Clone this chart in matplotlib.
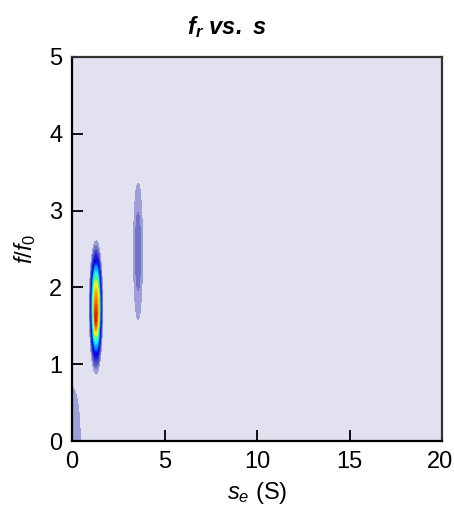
import numpy as np
import matplotlib
matplotlib.use("Agg")
import matplotlib.pyplot as plt
from matplotlib.colors import LinearSegmentedColormap
from matplotlib.transforms import ScaledTranslation

plt.rcParams['font.family'] = ['Liberation Sans', 'DejaVu Sans']
plt.rcParams['mathtext.fontset'] = 'custom'
plt.rcParams['mathtext.rm'] = 'Liberation Sans'
plt.rcParams['mathtext.it'] = 'Liberation Sans:italic'
plt.rcParams['mathtext.bf'] = 'Liberation Sans:bold'
plt.rcParams['mathtext.bfit'] = 'Liberation Sans:bold:italic'

# Density peaks (s_e in S, f/f0)
peak_s = [1.30, 1.28, 3.57, 0.0]
peak_f = [1.74, 1.57, 2.47, 0.0]
peak_ws = [0.18, 0.07, 0.17, 0.46]
peak_wf = [0.43, 0.13, 0.62, 0.72]
peak_amp = [0.86, 0.14, 0.07, 0.04]
peak_pow = [2.8, 2.0, 2.0, 2.0]

x_ticks = [0, 5, 10, 15, 20]
y_ticks = [0, 1, 2, 3, 4, 5]

s = np.linspace(0, 20, 1001)
f = np.linspace(0, 5, 801)
S, F = np.meshgrid(s, f)
Z = np.zeros_like(S)
for cs, cf, ws, wf, a, p in zip(peak_s, peak_f, peak_ws, peak_wf, peak_amp, peak_pow):
    r = np.sqrt(((S - cs) / ws) ** 2 + ((F - cf) / wf) ** 2)
    Z += a * np.exp(-0.5 * r ** p)

cmap = LinearSegmentedColormap.from_list('lavjet', [
    (0.00, '#b4b4e0'),
    (0.04, '#6a6ac4'),
    (0.12, '#2a2ad8'),
    (0.22, '#0000f0'),
    (0.36, '#00a0ff'),
    (0.48, '#00ffff'),
    (0.60, '#60ff60'),
    (0.72, '#ffff00'),
    (0.86, '#ff8000'),
    (1.00, '#e00000'),
])

fig = plt.figure(figsize=(4.54, 5.09), dpi=100)
ax = fig.add_axes([72/454, 68/509, 370/454, 384/509])
ax.set_facecolor('#e1e1f0')
levels = np.linspace(0.025, 1.0, 40)
ax.contourf(S, F, Z, levels=levels, cmap=cmap)

ax.set_xlim(0, 20)
ax.set_ylim(0, 5)
ax.set_xticks(x_ticks)
ax.set_yticks(y_ticks)
ax.tick_params(direction='in', length=8, width=1.3, labelsize=17,
               top=False, right=False)
ax.tick_params(axis='y', pad=7)
ax.tick_params(axis='x', pad=7)
for side in ['left', 'bottom']:
    ax.spines[side].set_linewidth(1.6)
    ax.spines[side].set_color('black')
for side in ['top', 'right']:
    ax.spines[side].set_linewidth(1.6)
    ax.spines[side].set_color('#333333')

lab = ax.get_xticklabels()[-1]
lab.set_transform(lab.get_transform() + ScaledTranslation(-2/100, 0, fig.dpi_scale_trans))

fig.text(0.5, 1 - 27/509, r'$\mathbfit{f_r}$ $\mathbfit{vs.\ s}$', fontsize=17,
         ha='center', va='center')
ax.set_xlabel(r'$s_e$ (S)', fontsize=17, labelpad=5)
ax.set_ylabel(r'$\mathit{f/f_0}$', fontsize=17, labelpad=8)

fig.savefig('out.png', dpi=100)
